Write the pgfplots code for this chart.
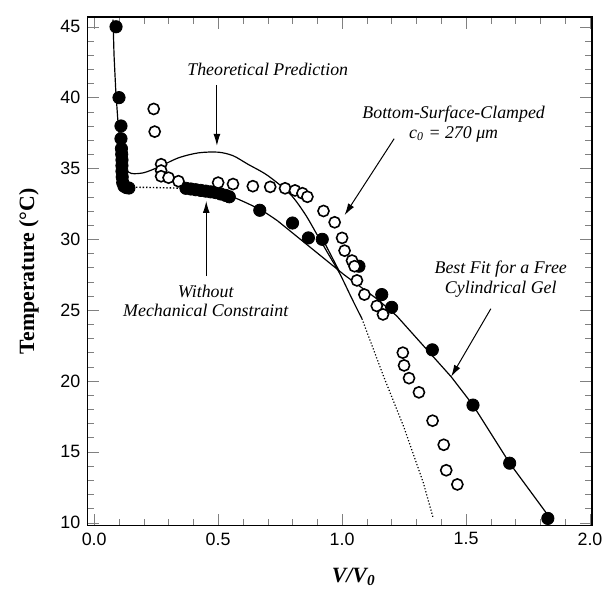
\documentclass[border=0pt]{standalone}
\usepackage{fontspec}
\setmainfont{Liberation Serif}
\setsansfont{Liberation Sans}
\usepackage{pgfplots}
\pgfplotsset{compat=1.18}
\usetikzlibrary{arrows.meta}
\begin{document}
\begin{tikzpicture}
\begin{axis}[name=ax,
  scale only axis, width=254.5pt, height=256.5pt,
  xmin=-0.028, xmax=2.008, ymin=9.8, ymax=45.7,
  xtick={0,0.5,1,1.5,2}, minor x tick num=4,
  ytick={10,15,20,25,30,35,40,45}, minor y tick num=4,
  tick pos=both,
  major tick length=6pt, minor tick length=3.5pt,
  axis line style={line width=0.7pt},
  ticklabel style={font=\sffamily\fontsize{9}{10}\selectfont},
  x tick label style={/pgf/number format/.cd, fixed, fixed zerofill, precision=1, assume math mode=true},
  y tick label style={/pgf/number format/assume math mode=true},
  xlabel={\bfseries\itshape V/V\textsubscript{0}},
  xlabel style={font=\fontsize{11}{12}\selectfont, at={(axis description cs:0.528,0)}, anchor=north, yshift=-18pt},
  ylabel={\bfseries Temperature (°C)},
  ylabel style={font=\fontsize{11}{12}\selectfont, yshift=4pt},
  clip=false,
]
% ticks drawn explicitly via axis data as short lines
\addplot[black, line width=0.6pt, sharp plot] coordinates {
(0.076,45.5) (0.080,43.0) (0.087,40.5) (0.095,38.5) (0.105,36.5) (0.112,35.0) (0.120,34.1) (0.135,33.75) (0.155,33.68)};
\addplot[black, line width=0.7pt, densely dotted] coordinates {
(0.155,33.68) (0.25,33.65) (0.37,33.6)};
\addplot[black, line width=0.6pt, smooth, tension=0.4] coordinates {
(0.37,33.6) (0.46,33.35) (0.55,33.05) (0.67,32.1) (0.74,31.3)};
\addplot[black, line width=0.6pt, sharp plot] coordinates {
(0.74,31.3) (0.86,29.6) (1.008,27.5) (1.14,25.8) (1.22,24.6) (1.44,20.3) (1.528,18.3) (1.676,14.2) (1.84,10.3)};
% theoretical prediction
\addplot[black, line width=0.6pt, smooth, tension=0.5] coordinates {
(0.12,35.0) (0.15,34.65) (0.20,34.7) (0.26,35.1) (0.34,35.75) (0.42,36.1) (0.50,36.15) (0.56,35.9) (0.62,35.3) (0.70,34.5) (0.79,33.2) (0.85,31.8) (0.90,30.3) (0.95,28.8) (0.99,27.6) (1.04,25.8) (1.08,24.4)};
\addplot[black, line width=0.6pt, densely dotted] coordinates {
(1.08,24.4) (1.168,20.3) (1.248,16.8) (1.328,12.8) (1.368,10.3)};
\addplot[black, line width=0.6pt] coordinates {(0.925,29.9) (0.99,27.7)};
% filled points
\addplot[only marks, mark=*, mark size=3.1pt, black] coordinates {
(0.088,45.0) (0.100,40.0) (0.108,38.0) (0.108,37.1) (0.110,36.4) (0.111,36.0) (0.112,35.6) (0.112,35.2) (0.112,34.8) (0.113,34.4) (0.115,34.0) (0.120,33.75) (0.130,33.65) (0.140,33.62)
(0.37,33.6) (0.39,33.55) (0.41,33.5) (0.43,33.45) (0.45,33.4) (0.47,33.35) (0.49,33.3) (0.51,33.2) (0.53,33.1) (0.545,33.0)
(0.668,32.05) (0.80,31.15) (0.864,30.1) (0.92,30.0) (1.068,28.1) (1.16,26.1) (1.20,25.2) (1.364,22.2) (1.528,18.3) (1.676,14.2) (1.83,10.3)};
% open points
\addplot[only marks, mark=*, mark size=2.8pt, black, line width=0.8pt, mark options={fill=white}] coordinates {
(0.24,39.2) (0.244,37.6) (0.27,35.3) (0.27,34.85) (0.27,34.45) (0.30,34.35) (0.34,34.1)
(0.50,34.0) (0.56,33.9) (0.64,33.75) (0.71,33.7) (0.77,33.6) (0.81,33.45) (0.84,33.25) (0.86,33.0)
(0.925,32.0) (0.97,31.2) (1.00,30.1) (1.01,29.2) (1.04,28.5) (1.05,28.1) (1.06,27.1) (1.09,26.1) (1.14,25.3) (1.165,24.7)
(1.245,22.0) (1.25,21.1) (1.27,20.2) (1.31,19.2) (1.365,17.2) (1.41,15.5) (1.42,13.7) (1.465,12.7)};
% annotations
\node[font=\itshape\fontsize{9}{10}\selectfont] at (axis cs:0.70,42.0) {Theoretical Prediction};
\draw[-{Latex[length=6pt,width=3.5pt]}, line width=0.5pt] (axis cs:0.495,40.9) -- (axis cs:0.495,36.6);
\node[font=\itshape\fontsize{9}{10}\selectfont, align=center] at (axis cs:1.45,38.1) {Bottom-Surface-Clamped\\c\textsubscript{0} = 270 μm};
\draw[-{Latex[length=6pt,width=3.5pt]}, line width=0.5pt] (axis cs:1.21,37.1) -- (axis cs:1.01,31.7);
\node[font=\itshape\fontsize{9}{10}\selectfont, align=center] at (axis cs:0.45,25.65) {Without\\Mechanical Constraint};
\draw[-{Latex[length=6pt,width=3.5pt]}, line width=0.5pt] (axis cs:0.452,27.4) -- (axis cs:0.452,32.7);
\node[font=\itshape\fontsize{9}{10}\selectfont, align=center] at (axis cs:1.64,27.2) {Best Fit for a Free\\Cylindrical Gel};
\draw[-{Latex[length=6pt,width=3.5pt]}, line width=0.5pt] (axis cs:1.60,25.1) -- (axis cs:1.44,20.3);
\end{axis}
\path ([xshift=-44pt,yshift=-34.5pt]ax.south west) rectangle ([xshift=6pt,yshift=8.5pt]ax.north east);
\end{tikzpicture}
\end{document}
